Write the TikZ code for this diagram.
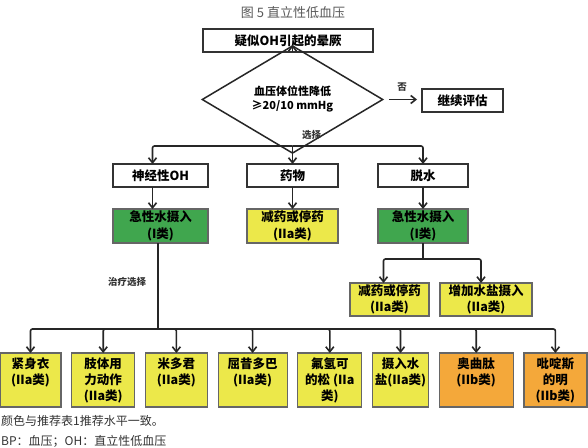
\documentclass[tikz,border=0pt]{standalone}
\usepackage{fontspec}
\setmainfont{Noto Sans CJK SC}
\usepackage{xcolor}
\usepackage{tikz}
\usetikzlibrary{arrows.meta}
\usetikzlibrary{calc}
\usetikzlibrary{positioning}
\usetikzlibrary{shapes.geometric, chains}
\definecolor{grn}{RGB}{64,166,78}
\definecolor{yel}{RGB}{236,232,74}
\definecolor{org}{RGB}{244,168,58}

\begin{document}
\begin{tikzpicture}[x=1pt, y=-1pt,
  node distance = 10.7pt,
   flowbox/.style = {draw=black!80, line width=1.3pt, fill=white,
                     inner sep=0pt, outer sep=0pt, minimum height=23pt,
                     font=\bfseries\fontsize{12.5}{16}\selectfont, align=center},
    recbox/.style = {draw=black!60, line width=1.2pt, inner sep=0pt,
                     outer sep=0pt, minimum height=34pt,
                     font=\bfseries\fontsize{12.5}{16.5}\selectfont, align=center},
     treat/.style = {draw=black!60, line width=1.2pt, inner xsep=0pt,
                     inner ysep=5pt, outer sep=0pt,
                     font=\bfseries\fontsize{12.5}{16}\selectfont, on chain},
       arr/.style = {-{Straight Barb[length=5pt,width=8pt]}, line width=1.6pt,
                     draw=black!85, rounded corners=2pt},
       tag/.style = {font=\bfseries\fontsize{9.5}{11}\selectfont,
                     text=black!80, inner sep=0pt}
                   ]
\useasboundingbox (0,0) rectangle (588,447);
\fill[white] (0,0) rectangle (588,447);

\node[font=\fontsize{13}{15}\selectfont, text=black!65] (title) at (293,13) {图 5 直立性低血压};

\node[flowbox, line width=1.6pt, minimum width=170pt] (suspect) at (288,40.5) {疑似OH引起的晕厥};
\node[diamond, draw=black!85, line width=1.5pt, minimum width=181pt, minimum height=55pt,
      inner sep=0pt, align=center, font=\bfseries\fontsize{11}{14}\selectfont] (bp) at (292.5,99.5)
      {血压体位性降低\\≥20/10 mmHg};
\node[flowbox, minimum width=81pt] (goon) at (462.5,100.5) {继续评估};
\node[tag] (no) at (402,87) {否};

% causes
\node[flowbox, minimum width=95pt] (neuro) at (160.5,175.5) {神经性OH};
\node[flowbox, minimum width=91pt] (drug) at (292.5,175.5) {药物};
\node[flowbox, minimum width=90pt] (dehyd) at (423,175.5) {脱水};

\node[recbox, fill=grn, minimum width=95pt] (water1) at (160.5,226) {急性水摄入\\(I类)};
\node[recbox, fill=yel, minimum width=91pt] (cut1) at (292.5,226) {减药或停药\\(IIa类)};
\node[recbox, fill=grn, minimum width=90pt] (water2) at (423,226) {急性水摄入\\(I类)};

\node[recbox, fill=yel, minimum width=79pt, minimum height=33pt] (cut2) at (389.5,299.5) {减药或停药\\(IIa类)};
\node[recbox, fill=yel, minimum width=92pt, minimum height=33pt] (salt) at (486,299.5) {增加水盐摄入\\(IIa类)};

% treatments
\begin{scope}[start chain=going right, shift={(30.5,380)}]
\foreach \w/\c/\t [count=\j] in {61/yel/{紧身衣\\(IIa类)}, 63/yel/{肢体用\\力动作\\(IIa类)},
    62/yel/{米多君\\(IIa类)}, 69/yel/{屈昔多巴\\(IIa类)}, 64/yel/{氟氢可\\的松 (IIa\\类)},
    56/yel/{摄入水\\盐(IIa类)}, 74/org/{奥曲肽\\(IIb类)}, 63/org/{吡啶斯\\的明\\(IIb类)}}
    \node[treat, fill=\c, minimum width=\w pt] (t\j) {\parbox[c][44pt][t]{\w pt}{\centering\t}};
\end{scope}

\coordinate (split) at (292.5,146);
\coordinate (fork) at (423,259);
\coordinate (trunk) at (158,329);
\node[tag, anchor=west] (choose) at (302,135) {选择};
\node[tag, anchor=west] (options) at (108,282) {治疗选择};

\draw[arr] (suspect.south -| bp.north) -- (bp.north);
\draw[arr, shorten <=5pt, shorten >=5pt] (bp.east) -- (goon.west |- bp.east);
\draw[arr, -] (bp.south) -- (split);
\draw[arr] (split) -| ([xshift=-8pt]neuro.north);
\draw[arr] (split) -- (drug.north);
\draw[arr] (split) -| (dehyd.north);
\draw[arr] ([xshift=-8pt]neuro.south) -- ([xshift=-8pt]water1.north);
\draw[arr] (drug) -- (cut1);
\draw[arr] (dehyd) -- (water2);
\draw[arr, -] (water2.south) -- (fork);
\draw[arr] (fork) -| ([xshift=-6pt]cut2.north);
\draw[arr] (fork) -| ([xshift=-5pt]salt.north);
\draw[arr, -] (water1.south -| trunk) -- (trunk);
\foreach \j in {1,...,8}
    \draw[arr] (trunk) -| (t\j.north);

\node[anchor=west, inner sep=0pt, font=\fontsize{12}{14}\selectfont, text=black!80] (note1) at (1,421) {颜色与推荐表1推荐水平一致。};
\node[anchor=west, inner sep=0pt, font=\fontsize{12}{14}\selectfont, text=black!80] (note2) at (1,441) {BP：血压；OH：直立性低血压};
\end{tikzpicture}
\end{document}
